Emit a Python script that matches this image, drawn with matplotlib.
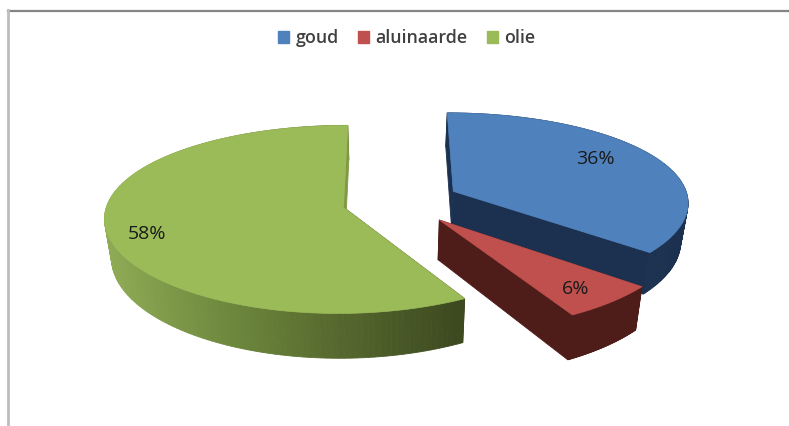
import numpy as np
import matplotlib.pyplot as plt
from matplotlib.patches import Patch
from matplotlib.colors import LinearSegmentedColormap

labels = ["goud", "aluinaarde", "olie"]
values = [36, 6, 58]
top_colors = ["#4f81bd", "#c0504d", "#9bbb59"]
side_colors = ["#1c3150", "#4e1c19", None]

# perspective of the tilted pie, in picture pixels
XC, A = 389, 237
YH, D, K, KX = -506, 713, 0.135, 0.11
RADIUS_Y = 0.96
CENTER_X, CENTER_Y = 0.05, 0.06
EXPLODE = 0.25
DEPTH = 39
BOTTOM_SCALE = 0.975
LABEL_R = 0.8
# small nudge of each percent label, pixels
label_nudge = [(-18, -3), (1, 5), (-8, 8)]

green_side = LinearSegmentedColormap.from_list(
    "green_side", ["#8fab55", "#6f8a3e", "#56682e", "#3d4a20"]
)


def project(px, py):
    return XC + A * px / (1 + KX * py), YH + D / (1 + K * py)


def project_bottom(px, py):
    x, y = project(px, py)
    return XC + (x - XC) * BOTTOM_SCALE, y + DEPTH / (1 + K * py)


fig = plt.figure(figsize=(7.89, 4.26), dpi=100)
ax = fig.add_axes([0, 0, 1, 1])
ax.set_xlim(0, 789)
ax.set_ylim(426, 0)
ax.axis("off")

# chart frame, only top and left survive in the picture
ax.plot([8, 789], [10.5, 10.5], color="#858585", lw=1.6)
ax.plot([8.5, 8.5], [10, 426], color="#bdbdbd", lw=2)

edges = np.cumsum([0] + values) / sum(values) * 2 * np.pi
# green at the back, then blue, red stays in front
for i in [2, 0, 1]:
    mid = (edges[i] + edges[i + 1]) / 2
    ox = CENTER_X + EXPLODE * np.sin(mid)
    oy = CENTER_Y + EXPLODE * np.cos(mid)
    t = np.linspace(edges[i], edges[i + 1], 160)
    px = np.r_[ox, ox + np.sin(t), ox]
    py = np.r_[oy, oy + RADIUS_Y * np.cos(t), oy]
    tx, ty = project(px, py)
    bx, by = project_bottom(px, py)

    quads = []
    for j in range(len(px) - 1):
        quads.append((np.mean(ty[j:j + 2]), j))
    for _, j in sorted(quads):
        if side_colors[i] is None:
            # cut faces get a flat olive, the rim runs light to dark
            if j == 0 or j == len(px) - 2:
                col = "#7f9a45" if j == len(px) - 2 else "#3d4a20"
            else:
                col = green_side((tx[j] - 106) / (459 - 106))
        else:
            col = side_colors[i]
        ax.fill(
            [tx[j], tx[j + 1], bx[j + 1], bx[j]],
            [ty[j], ty[j + 1], by[j + 1], by[j]],
            color=col,
            lw=0.6,
        )
    ax.fill(tx, ty, color=top_colors[i], lw=0.5)

    lx, ly = project(
        ox + LABEL_R * np.sin(mid), oy + LABEL_R * RADIUS_Y * np.cos(mid)
    )
    ax.text(
        lx + label_nudge[i][0],
        ly + label_nudge[i][1],
        f"{values[i]}%",
        ha="center",
        va="center",
        fontsize=14,
        family="Open Sans",
        color="#1a1a1a",
    )

handles = [Patch(color=c, label=n) for c, n in zip(top_colors, labels)]
fig.legend(
    handles=handles,
    loc="center",
    bbox_to_anchor=(407 / 789, 1 - 38 / 426),
    ncol=3,
    frameon=False,
    prop={"family": "Open Sans", "size": 12.8, "weight": "semibold"},
    labelcolor="#404040",
    handlelength=0.62,
    handleheight=0.62,
    handletextpad=0.35,
    columnspacing=1.1,
)

plt.savefig("out.png", dpi=100)
